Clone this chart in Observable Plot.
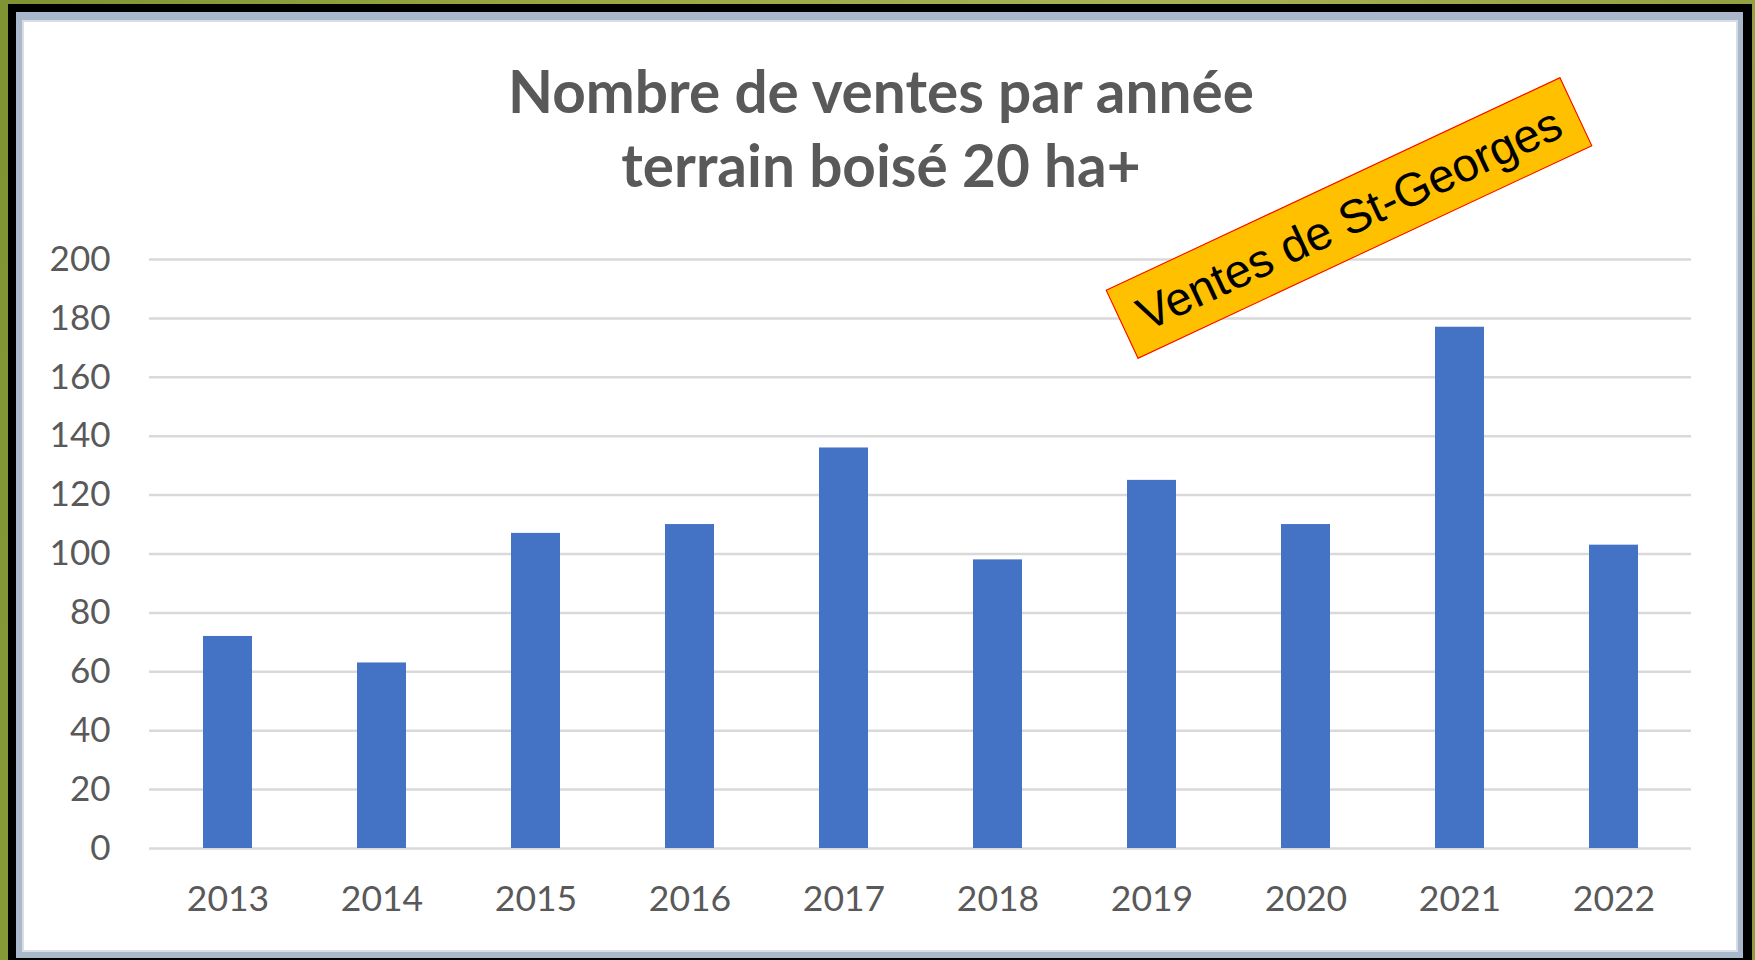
<!DOCTYPE html>
<html>
<head>
<meta charset="utf-8">
<script src="https://cdn.jsdelivr.net/npm/d3@7"></script>
<script src="https://cdn.jsdelivr.net/npm/@observablehq/plot@0.6"></script>
<style>
  html, body { margin: 0; padding: 0; }
  body {
    width: 1755px; height: 960px; overflow: hidden; position: relative;
    background: linear-gradient(100deg, #7f9232 0%, #9aa843 30%, #a7b356 60%, #8e9c3b 100%);
  }
  .abs { position: absolute; box-sizing: border-box; }
  #black { left: 8px; top: 4px; width: 1744px; height: 970px; background: #000; }
  #blue { left: 16px; top: 12px; width: 1727px; height: 946px; background: #a9b8cb; }
  #white { left: 22px; top: 20px; width: 1716px; height: 932px; background: #fff; border: 2px solid #d8dde4; }
  #title {
    left: 381px; top: 53px; width: 1000px; text-align: center;
    font-family: Lato, "Open Sans", sans-serif; font-weight: 700; font-size: 58.5px;
    line-height: 74px; color: #595959;
  }
  #chart { left: 24px; top: 230px; }
  #note {
    left: 1098px; top: 180px; width: 502px; height: 76px;
    background: #FFC000; border: 1.5px solid #FF0000;
    transform: rotate(-25.1deg); transform-origin: 50% 50%;
    display: flex; align-items: center; justify-content: center;
    font-family: "Liberation Sans", Arial, sans-serif; font-size: 47px; color: #000;
    white-space: nowrap;
  }
</style>
</head>
<body>
<div id="black" class="abs"></div>
<div id="blue" class="abs"></div>
<div id="white" class="abs"></div>
<div id="title" class="abs"></div>
<div id="chart" class="abs"></div>
<div id="note" class="abs"></div>
<script>
const titleLines = ["Nombre de ventes par année", "terrain boisé 20 ha+"];
const noteText = "Ventes de St-Georges";
const years = ["2013", "2014", "2015", "2016", "2017", "2018", "2019", "2020", "2021", "2022"];
const sales = [72, 63, 107, 110, 136, 98, 125, 110, 177, 103];
const yTicks = [0, 20, 40, 60, 80, 100, 120, 140, 160, 180, 200];

const data = years.map((year, i) => ({year, value: sales[i]}));

document.getElementById("title").innerHTML = titleLines.join("<br>");
document.getElementById("note").textContent = noteText;

const chart = Plot.plot({
  width: 1700,
  height: 700,
  marginLeft: 125,
  marginRight: 33,
  marginTop: 29,
  marginBottom: 82,
  style: {fontFamily: "Lato, 'Open Sans', sans-serif", color: "#595959", background: "transparent", overflow: "visible"},
  x: {domain: years, paddingInner: 0.685, paddingOuter: 0.3425, label: null},
  y: {domain: [0, 200], label: null},
  marks: [
    Plot.ruleY(yTicks, {stroke: "#d9d9d9", strokeWidth: 2.5}),
    Plot.barY(data, {x: "year", y: "value", fill: "#4472C4"}),
    Plot.axisY({ticks: yTicks, tickSize: 0, tickPadding: 39, fontSize: 35, fill: "#595959", label: null}),
    Plot.axisX({tickSize: 0, tickPadding: 37, fontSize: 35.5, fill: "#595959", label: null})
  ]
});
document.getElementById("chart").appendChild(chart);
</script>
</body>
</html>
